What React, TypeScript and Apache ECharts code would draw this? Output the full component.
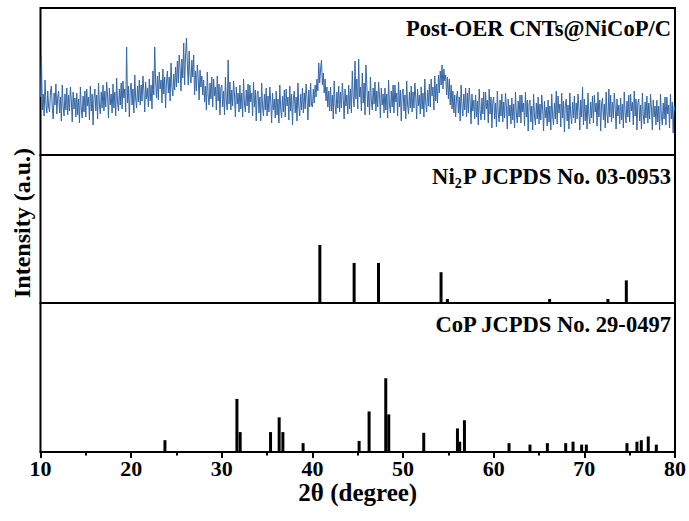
import React, { useEffect, useRef } from "react";
import * as echarts from "echarts";

// Top panel: measured pattern (2θ from 10 to 80, step 0.1°), intensity in arbitrary units
const scanStart = 10;
const scanStep = 0.1;
const scanIntensity = [
  58, 100, 45, 61, 39, 75, 51, 42, 64, 48,
  43, 63, 69, 47, 36, 62, 50, 71, 41, 58,
  64, 42, 58, 34, 70, 48, 39, 61, 45, 67,
  40, 60, 44, 68, 55, 33, 63, 46, 57, 38,
  62, 40, 56, 32, 68, 46, 37, 59, 43, 64,
  38, 66, 49, 58, 35, 69, 44, 61, 30, 57,
  66, 44, 60, 36, 72, 50, 41, 63, 47, 70,
  44, 64, 48, 73, 59, 37, 67, 50, 61, 42,
  71, 47, 63, 39, 77, 53, 44, 66, 50, 72,
  46, 74, 57, 66, 43, 108, 52, 69, 38, 65,
  72, 50, 66, 42, 80, 56, 47, 69, 53, 75,
  50, 70, 54, 79, 65, 43, 73, 56, 67, 48,
  76, 54, 70, 46, 84, 60, 108, 73, 57, 79,
  55, 83, 66, 75, 52, 86, 61, 78, 47, 74,
  84, 62, 78, 54, 92, 68, 59, 81, 65, 88,
  68, 94, 72, 100, 86, 64, 96, 77, 112, 70,
  99, 117, 92, 70, 104, 80, 72, 95, 78, 100,
  60, 84, 64, 90, 77, 55, 85, 68, 79, 60,
  75, 53, 69, 45, 83, 59, 50, 72, 56, 78,
  48, 76, 59, 68, 45, 79, 54, 71, 40, 67,
  70, 48, 64, 40, 78, 54, 45, 95, 51, 73,
  45, 65, 49, 74, 60, 38, 68, 51, 62, 43,
  70, 46, 62, 38, 76, 52, 43, 65, 49, 71,
  42, 70, 53, 62, 39, 73, 48, 65, 34, 61,
  64, 42, 58, 34, 72, 48, 39, 61, 45, 67,
  39, 59, 43, 68, 54, 32, 62, 45, 56, 37,
  64, 40, 56, 32, 70, 46, 37, 59, 43, 65,
  38, 66, 49, 58, 35, 69, 44, 61, 30, 57,
  64, 42, 58, 34, 72, 48, 39, 61, 45, 67,
  42, 62, 46, 71, 57, 35, 65, 48, 72, 50,
  48, 66, 52, 70, 58, 76, 64, 92, 72, 86,
  95, 70, 82, 62, 76, 54, 68, 48, 64, 44,
  68, 44, 60, 36, 74, 50, 41, 63, 47, 69,
  43, 63, 47, 72, 58, 36, 66, 49, 60, 41,
  70, 46, 66, 42, 84, 58, 48, 94, 56, 76,
  46, 96, 58, 68, 44, 82, 52, 72, 40, 90,
  70, 48, 64, 40, 78, 54, 45, 67, 51, 73,
  44, 64, 48, 73, 59, 37, 67, 50, 61, 42,
  67, 45, 61, 37, 75, 51, 42, 64, 48, 70,
  42, 70, 53, 62, 39, 73, 48, 65, 34, 61,
  66, 44, 60, 36, 74, 50, 41, 63, 47, 69,
  43, 63, 47, 72, 58, 36, 66, 49, 60, 41,
  68, 46, 62, 38, 76, 52, 43, 65, 49, 71,
  48, 76, 59, 68, 45, 79, 54, 71, 52, 80,
  62, 84, 70, 90, 66, 86, 74, 80, 60, 78,
  56, 76, 50, 70, 46, 64, 42, 60, 38, 58,
  64, 42, 58, 34, 70, 48, 39, 61, 45, 67,
  38, 62, 42, 67, 53, 31, 61, 44, 55, 36,
  60, 38, 54, 30, 66, 44, 35, 57, 41, 63,
  35, 63, 46, 55, 32, 66, 41, 58, 27, 54,
  58, 36, 52, 28, 64, 42, 33, 55, 39, 61,
  33, 53, 37, 62, 48, 26, 56, 39, 50, 31,
  57, 35, 51, 27, 63, 41, 32, 54, 38, 60,
  32, 60, 43, 52, 29, 63, 38, 55, 24, 51,
  55, 33, 49, 25, 61, 39, 30, 52, 36, 58,
  31, 51, 35, 60, 46, 24, 54, 37, 48, 29,
  55, 33, 49, 25, 61, 39, 30, 52, 36, 64,
  31, 59, 42, 51, 28, 62, 37, 54, 23, 50,
  56, 34, 50, 26, 62, 40, 31, 53, 37, 59,
  32, 52, 36, 61, 47, 25, 55, 38, 68, 30,
  56, 34, 50, 26, 62, 40, 31, 53, 37, 59,
  32, 60, 43, 52, 29, 63, 38, 55, 24, 51,
  57, 35, 51, 27, 63, 41, 32, 66, 38, 60,
  33, 53, 37, 62, 48, 26, 56, 39, 50, 31,
  57, 35, 51, 27, 63, 41, 32, 54, 38, 60,
  33, 61, 44, 53, 30, 64, 39, 56, 25, 52,
  56, 34, 50, 26, 62, 40, 31, 53, 37, 59,
  32, 52, 36, 61, 47, 25, 55, 38, 49, 30,
  55, 33, 49, 25, 61, 39, 30, 52, 36, 58,
  30, 58, 41, 50, 27, 61, 36, 53, 22, 49,
  44,
];

// Ni2P reference (JCPDS 03-0953), relative intensity
const ni2pAngles = [40.82, 44.6, 47.29, 54.19, 54.89, 66.17, 72.6, 74.63];
const ni2pIntensity = [100, 69, 69, 53, 7, 7, 7, 39];

// CoP reference (JCPDS 29-0497), relative intensity
const copAngles = [
  23.73, 31.67, 32.03, 35.38, 36.33, 36.74, 38.97, 45.15, 46.25, 48.09,
  48.42, 52.28, 56.0, 56.25, 56.77, 61.69, 64.0, 65.92, 67.94, 68.75,
  69.7, 70.22, 74.7, 75.8, 76.28, 77.05, 77.94,
];
const copIntensity = [
  16, 72, 27, 27, 47, 27, 12, 15, 55, 100,
  51, 26, 32, 14, 43, 12, 10, 12, 12, 14,
  10, 10, 12, 14, 16, 21, 10,
];

const panelLabels = ["Post-OER CNTs@NiCoP/C", "JCPDS No. 03-0953", "CoP JCPDS No. 29-0497"];
const xTitle = "2θ (degree)";
const yTitle = "Intensity (a.u.)";

const FONT = "'Liberation Serif', 'Times New Roman', serif";

export default function App() {
  const ref = useRef<HTMLDivElement>(null);

  useEffect(() => {
    if (!ref.current) return;
    const chart = echarts.init(ref.current, null, { renderer: "svg" });

    const scanData = scanIntensity.map((v, i) => [+(scanStart + i * scanStep).toFixed(2), v]);
    const ni2pData = ni2pAngles.map((a, i) => [a, ni2pIntensity[i]]);
    const copData = copAngles.map((a, i) => [a, copIntensity[i]]);

    const left = 40.5;
    const right = 14;
    const grids = [
      { left, right, top: 8, height: 147 },
      { left, right, top: 155, height: 148 },
      { left, right, top: 303, height: 149 },
    ].map((g) => ({ ...g, show: true, borderColor: "#000", borderWidth: 2, backgroundColor: "transparent" }));

    const hiddenX = (gi: number) => ({
      type: "value",
      gridIndex: gi,
      min: 10,
      max: 80,
      interval: 10,
      show: false,
    });

    const labelScaleX = 0.94;

    chart.setOption({
      animation: false,
      backgroundColor: "#fff",
      grid: grids,
      xAxis: [
        hiddenX(0),
        hiddenX(1),
        {
          type: "value",
          gridIndex: 2,
          min: 10,
          max: 80,
          interval: 10,
          axisLine: { show: true, lineStyle: { color: "#000", width: 2 } },
          axisTick: { show: true, inside: false, length: 6, lineStyle: { color: "#000", width: 2 } },
          minorTick: { show: true, splitNumber: 2, length: 3.5, lineStyle: { color: "#000", width: 2 } },
          splitLine: { show: false },
          minorSplitLine: { show: false },
          axisLabel: {
            color: "#000",
            fontFamily: FONT,
            fontWeight: "bold",
            fontSize: 22,
            margin: 5,
          },
          name: xTitle,
          nameLocation: "middle",
          nameGap: 27,
          nameTextStyle: { color: "#000", fontFamily: FONT, fontWeight: "bold", fontSize: 25 },
        },
      ],
      yAxis: [
        { type: "value", gridIndex: 0, min: 0, max: 147, show: false },
        { type: "value", gridIndex: 1, min: 0, max: 255, show: false },
        { type: "value", gridIndex: 2, min: 0, max: 202, show: false },
      ],
      series: [
        {
          type: "line",
          xAxisIndex: 0,
          yAxisIndex: 0,
          data: scanData,
          showSymbol: false,
          lineStyle: { color: "#3466a6", width: 1 },
          silent: true,
        },
        {
          type: "bar",
          xAxisIndex: 1,
          yAxisIndex: 1,
          data: ni2pData,
          barWidth: 3,
          itemStyle: { color: "#000" },
          silent: true,
        },
        {
          type: "bar",
          xAxisIndex: 2,
          yAxisIndex: 2,
          data: copData,
          barWidth: 3,
          itemStyle: { color: "#000" },
          silent: true,
        },
      ],
      graphic: [
        {
          type: "text",
          x: 671,
          y: 28,
          scaleX: labelScaleX,
          style: {
            text: panelLabels[0],
            align: "right",
            verticalAlign: "middle",
            fontFamily: FONT,
            fontWeight: "bold",
            fontSize: 24,
            fill: "#000",
          },
        },
        {
          type: "text",
          x: 671,
          y: 176,
          scaleX: labelScaleX,
          style: {
            text: "{a|Ni}{s|2}{a|P " + panelLabels[1] + "}",
            align: "right",
            verticalAlign: "middle",
            fill: "#000",
            rich: {
              a: { fontFamily: FONT, fontWeight: "bold", fontSize: 24, lineHeight: 29, fill: "#000" },
              s: { fontFamily: FONT, fontWeight: "bold", fontSize: 15, lineHeight: 29, verticalAlign: "bottom", fill: "#000" },
            },
          },
        },
        {
          type: "text",
          x: 671,
          y: 324,
          scaleX: labelScaleX,
          style: {
            text: panelLabels[2],
            align: "right",
            verticalAlign: "middle",
            fontFamily: FONT,
            fontWeight: "bold",
            fontSize: 24,
            fill: "#000",
          },
        },
        {
          type: "text",
          x: 22,
          y: 223,
          rotation: Math.PI / 2,
          style: {
            text: yTitle,
            align: "center",
            verticalAlign: "middle",
            fontFamily: FONT,
            fontWeight: "bold",
            fontSize: 24,
            fill: "#000",
          },
        },
      ],
    });

    return () => chart.dispose();
  }, []);

  return (
    <div
      ref={ref}
      style={{ position: "fixed", left: 0, top: 0, width: 689, height: 521, background: "#fff" }}
    />
  );
}
